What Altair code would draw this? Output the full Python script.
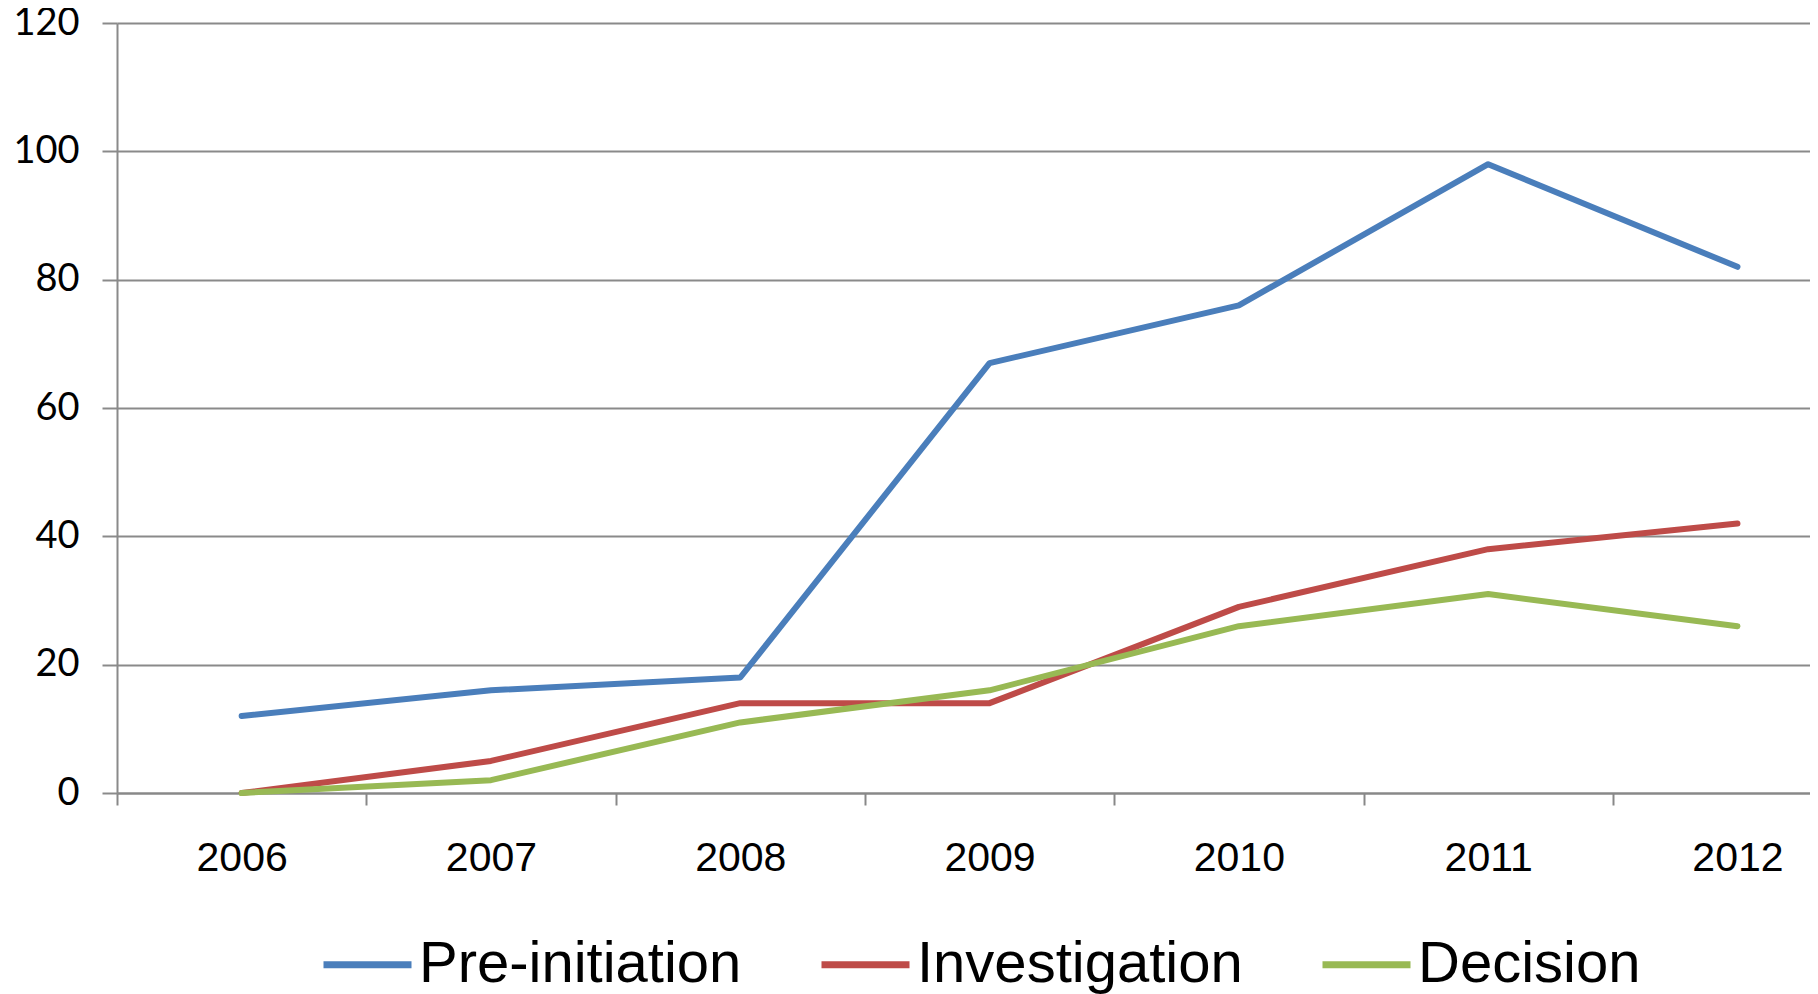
import altair as alt
import pandas as pd

years = [2006, 2007, 2008, 2009, 2010, 2011, 2012]
series_names = ["Pre-initiation", "Investigation", "Decision"]
pre_initiation = [12, 16, 18, 67, 76, 98, 82]
investigation = [0, 5, 14, 14, 29, 38, 42]
decision = [0, 2, 11, 16, 26, 31, 26]
colors = ["#4A7EBB", "#BE4B48", "#98B954"]
y_ticks = [0, 20, 40, 60, 80, 100, 120]
x_tick_bounds = [2005.5, 2006.5, 2007.5, 2008.5, 2009.5, 2010.5, 2011.5]

rows = []
for name, vals in zip(series_names, [pre_initiation, investigation, decision]):
    for yr, v in zip(years, vals):
        rows.append({"year": yr, "value": v, "series": name})
df = pd.DataFrame(rows)
bounds_df = pd.DataFrame({"year": x_tick_bounds})

x_scale = alt.Scale(domain=[2005.5, 2012.291], nice=False, zero=False)
y_scale = alt.Scale(domain=[0, 120], nice=False)

y_axis = alt.Axis(values=y_ticks, title=None, grid=True, gridColor="#8a8a8a", gridWidth=2,
                  tickSize=15, tickWidth=2, tickColor="#8a8a8a",
                  domainColor="#8a8a8a", domainWidth=2,
                  labelFont="Lato", labelFontSize=38, labelColor="#000000",
                  labelPadding=23, labelBaseline="middle")

lines = alt.Chart(df).mark_line(strokeWidth=6, strokeCap="round", strokeJoin="round").encode(
    x=alt.X("year:Q", scale=x_scale,
            axis=alt.Axis(values=years, format="d", title=None, grid=False, orient="bottom",
                          ticks=False, tickSize=12, domain=False,
                          labelOverlap=False, labelFlush=False,
                          labelFont="Liberation Sans", labelFontSize=41, labelColor="#000000",
                          labelPadding=45, labelBaseline="top")),
    y=alt.Y("value:Q", scale=y_scale, axis=y_axis),
    color=alt.Color("series:N",
                    scale=alt.Scale(domain=series_names, range=colors),
                    legend=alt.Legend(orient="none", legendX=203, legendY=894, direction="horizontal",
                                      title=None, symbolType="stroke", symbolSize=7744,
                                      symbolStrokeWidth=7, labelFont="Liberation Sans",
                                      labelFontSize=58, labelColor="#000000", labelOffset=4,
                                      columnPadding=65, padding=0, labelLimit=0,
                                      labelBaseline="middle")),
)

ticks_layer = alt.Chart(bounds_df).mark_point(opacity=0).encode(
    x=alt.X("year:Q", scale=x_scale,
            axis=alt.Axis(values=x_tick_bounds, title=None, grid=False, orient="bottom",
                          labels=False, ticks=True, tickSize=12, tickWidth=2, tickColor="#888888",
                          domain=True, domainColor="#888888", domainWidth=2)),
)

chart = alt.layer(ticks_layer, lines).resolve_axis(x="independent").properties(
    width=1693, height=770,
    autosize=alt.AutoSizeParams(type="none"),
    padding={"left": 109, "top": 15, "right": 0, "bottom": 201},
    background="#ffffff",
).configure_view(stroke=None)

chart.save("out.html", embed_options={"renderer": "svg", "actions": False})
